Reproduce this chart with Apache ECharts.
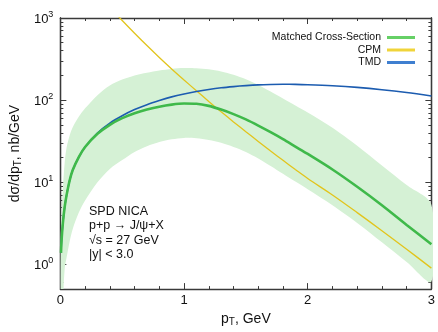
<!DOCTYPE html>
<html>
<head>
<meta charset="utf-8">
<script src="https://cdn.jsdelivr.net/npm/echarts@6/dist/echarts.min.js"></script>
<style>
html,body{margin:0;padding:0;background:#fff;}
#c{width:438px;height:332px;}
</style>
</head>
<body>
<div id="c"></div>
<script>
// ---- data (dσ/dpT in nb/GeV vs pT in GeV) ----
const ptMatched = [0.005,0.01,0.02,0.035,0.05,0.075,0.1,0.15,0.2,0.3,0.4,0.5,0.6,0.7,0.8,0.9,1.0,1.1,1.2,1.3,1.4,1.5,1.6,1.7,1.8,1.9,2.0,2.2,2.4,2.6,2.8,3.0];
const matched   = [1.38,2.0,3.16,5.01,6.92,10.5,14.1,20.4,26.9,38.9,50.1,60.3,69.2,76.7,83.2,88.1,90.8,90.2,85.1,76.7,67.6,58.2,49.0,40.7,33.5,27.2,22.1,14.3,8.81,5.25,3.02,1.76];

const ptTMD = [0.005,0.01,0.02,0.035,0.05,0.075,0.1,0.15,0.2,0.3,0.4,0.5,0.6,0.7,0.8,0.9,1.0,1.1,1.2,1.3,1.4,1.5,1.6,1.7,1.8,1.9,2.0,2.2,2.4,2.6,2.8,3.0];
const tmd   = [1.38,2.0,3.16,5.01,6.92,10.5,14.1,20.4,26.9,39.8,52.5,64.6,76.7,88.1,98.9,109.6,118.9,127.4,134.9,141.3,146.2,150.3,153.5,155.2,156.0,155.6,154.2,149.6,142.9,134.0,123.6,112.2];

const ptCPM = [0.45,0.5,0.6,0.7,0.8,0.9,1.0,1.1,1.2,1.3,1.4,1.5,1.6,1.7,1.8,1.9,2.0,2.2,2.4,2.6,2.8,3.0];
const cpm   = [1122,933,653,462,331,240,176,130,96.4,72.1,54.3,41.2,31.4,24.0,18.5,14.3,11.1,7.0,4.27,2.57,1.53,0.90];

const ptBand   = [0.003,0.01,0.02,0.035,0.05,0.075,0.1,0.15,0.2,0.3,0.4,0.5,0.6,0.7,0.8,0.9,1.0,1.1,1.2,1.3,1.4,1.5,1.6,1.7,1.8,1.9,2.0,2.2,2.4,2.6,2.8,3.0];
const bandHigh = [2.0,4.2,8.3,17.4,26.3,37.2,46.8,63.1,79.4,115,151,178,200,216,230,240,245.5,244.3,237.1,223.9,204.2,179.9,153.1,127.4,104.7,86.1,70.8,46.2,27.9,16.0,9.23,5.31];
const bandLow  = [0.03,0.1,0.32,0.89,1.2,1.9,2.7,4.3,6.0,10,14.5,18.6,23.4,27.5,30.9,33.3,34.7,34.3,32.7,30.2,26.9,23.4,19.5,15.8,12.7,10.2,8.22,5.25,3.2,1.86,1.07,0.62];

const xTicks = [0,1,2,3];
const yDecades = [0,1,2,3];            // exponents of labelled ticks 10^0..10^3
const yMin = 0.5, yMax = 1000;

const seriesNames = ['Matched Cross-Section','CPM','TMD'];
const textLines = ['SPD NICA','p+p \u2192 J/\u03c8+X','\u221as = 27 GeV','|y| < 3.0'];

// ---- helpers ----
const L = v => Math.log10(v);
const pairs = (xs, ys) => xs.map((x,i)=>[x, L(ys[i])]);
const minorLogs = [];
for (let e = -1; e < 3; e++) for (let k = 2; k <= 9; k++) {
  const v = L(k*Math.pow(10,e));
  if (v > L(yMin) && v < L(yMax)) minorLogs.push(v);
}

const C_GREEN = '#3fb94a', C_YEL = '#e2c41c', C_BLUE = '#1c5cb0', C_BAND = '#d5f1d5';
const FRAME = '#3a3a3a';
const FONT = 'Liberation Sans, Arial, Helvetica, sans-serif';

const baseY = {
  type:'value', min:L(yMin), max:L(yMax),
  splitLine:{show:false},
  axisLine:{show:true, onZero:false, lineStyle:{color:FRAME, width:1.3}},
};
function yAx(pos, major, labels) {
  return Object.assign({}, baseY, {
    position:pos,
    axisTick:{show:true, inside:true, length: major?6:3, lineStyle:{color:FRAME, width:1},
      customValues: major ? yDecades : minorLogs},
    axisLabel: labels ? {show:true, customValues:yDecades, margin:7, color:'#111', fontFamily:FONT,
        formatter: v => '{b|10}{s|' + Math.round(v) + '}',
        rich:{ b:{fontSize:13, fontFamily:FONT, color:'#111', verticalAlign:'bottom'},
               s:{fontSize:9, fontFamily:FONT, color:'#111', verticalAlign:'top', padding:[0,0,7,0]} } }
      : {show:false},
  });
}

const yAxes = [ yAx('left', true, true), yAx('left', false, false), yAx('right', true, false), yAx('right', false, false) ];
yAxes[0].name = 'd\u03c3/dp{s|T}, nb/GeV';
yAxes[0].nameLocation = 'middle';
yAxes[0].nameGap = 37;
yAxes[0].nameRotate = 90;
yAxes[0].nameTextStyle = {fontSize:14, fontFamily:FONT, color:'#111',
  rich:{ s:{fontSize:10, fontFamily:FONT, color:'#111', verticalAlign:'bottom', padding:[6,0,0,0]} }};

function xAx(pos, labels) {
  return {
    type:'value', position:pos, min:0, max:3, interval:1,
    splitLine:{show:false},
    axisLine:{show:true, onZero:false, lineStyle:{color:FRAME, width:1.3}},
    axisTick:{show:true, inside:true, length:6, lineStyle:{color:FRAME, width:1}},
    minorTick:{show:true, splitNumber:5, length:3, lineStyle:{color:FRAME, width:1}},
    axisLabel: labels ? {show:true, margin:5, fontSize:13, color:'#111', fontFamily:FONT,
      customValues:xTicks, formatter: v => String(v)} : {show:false},
  };
}
const xAxes = [ xAx('bottom', true), xAx('top', false) ];
xAxes[0].name = 'p{s|T}, GeV';
xAxes[0].nameLocation = 'middle';
xAxes[0].nameGap = 20;
xAxes[0].nameTextStyle = {fontSize:14, fontFamily:FONT, color:'#111',
  rich:{ s:{fontSize:10, fontFamily:FONT, color:'#111', verticalAlign:'bottom', padding:[6,0,0,0]} }};

const bandData = ptBand.map((x,i)=>[x, L(bandLow[i]), L(bandHigh[i])]);

const option = {
  animation:false,
  backgroundColor:'#fff',
  grid:{left:58, right:5, top:18, bottom:35, containLabel:false},
  xAxis: xAxes,
  yAxis: yAxes,
  legend:{
    orient:'vertical', right:18, top:27, align:'right', itemGap:1.5,
    itemWidth:28, itemHeight:3, icon:'rect',
    textStyle:{fontSize:10.5, fontFamily:FONT, color:'#111', padding:[0,1,0,0]},
    data:[
      {name:seriesNames[0], itemStyle:{color:'#66d066'}},
      {name:seriesNames[1], itemStyle:{color:'#f0d43a'}},
      {name:seriesNames[2], itemStyle:{color:'#3f7fd0'}},
    ]
  },
  graphic:[{
    type:'text', left:89, top:204,
    style:{ text:textLines.join('\n'), font:'12.5px ' + FONT, fill:'#111', lineHeight:14.5 }
  }],
  series:[
    {
      type:'custom', name:'band', clip:true, silent:true, z:1,
      data: bandData,
      encode:{x:0, y:[1,2]},
      renderItem:(params, api) => {
        if (params.dataIndex !== 0) return null;
        const up = bandData.map(d => api.coord([d[0], d[2]]));
        const lo = bandData.map(d => api.coord([d[0], d[1]])).reverse();
        return { type:'polygon', shape:{points: up.concat(lo), smooth:0.3},
                 style:{fill:C_BAND, stroke:null} };
      }
    },
    { type:'line', name:seriesNames[1], data:pairs(ptCPM,cpm), showSymbol:false, smooth:0.3,
      lineStyle:{color:C_YEL, width:1.3}, itemStyle:{color:C_YEL}, z:3 },
    { type:'line', name:seriesNames[2], data:pairs(ptTMD,tmd), showSymbol:false, smooth:0.3,
      lineStyle:{color:C_BLUE, width:1.6}, itemStyle:{color:C_BLUE}, z:3 },
    { type:'line', name:seriesNames[0], data:pairs(ptMatched,matched), showSymbol:false, smooth:0.3,
      lineStyle:{color:C_GREEN, width:2.6}, itemStyle:{color:C_GREEN}, z:4 },
  ]
};
const chart = echarts.init(document.getElementById('c'), null, {renderer:'canvas'});
chart.setOption(option);
</script>
</body>
</html>
